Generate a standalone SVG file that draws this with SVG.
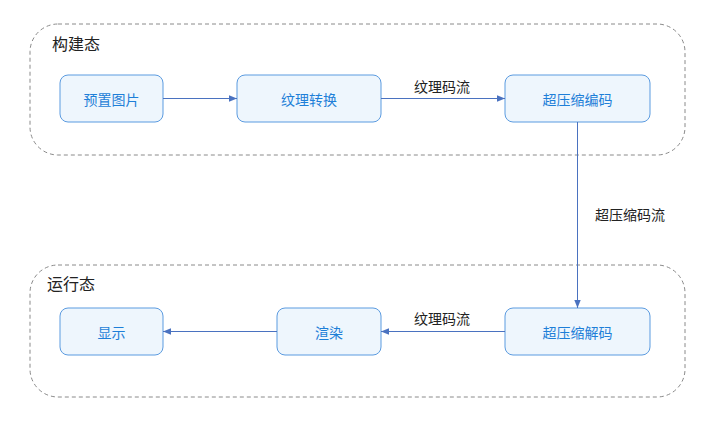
<svg xmlns="http://www.w3.org/2000/svg" width="711" height="429" viewBox="0 0 711 429">
<style>
.grp{fill:none;stroke:#8a8a8a;stroke-dasharray:4 3;stroke-width:1}
.gl{font-family:"Noto Sans CJK SC",sans-serif;font-size:16px;fill:#222}
.n rect{fill:#EEF6FD;stroke:#5B9BE0;stroke-width:1}
.n text{font-family:"Noto Sans CJK SC",sans-serif;font-size:14px;fill:#1E7FD8;text-anchor:middle;dominant-baseline:central}
.c{stroke:#4A72C0;stroke-width:1;fill:none;marker-end:url(#a)}
.cl{font-family:"Noto Sans CJK SC",sans-serif;font-size:14px;fill:#222;text-anchor:middle}
</style>
<defs><marker id="a" viewBox="0 0 10 10" refX="10" refY="5" markerWidth="8" markerHeight="8" orient="auto"><path d="M0,1 L10,5 L0,9 z" fill="#4A72C0"/></marker></defs>
<rect width="711" height="429" fill="#fff"/>
<g id="build"><rect class="grp" x="30" y="24" width="655" height="131" rx="28"/><text class="gl" x="52" y="50">构建态</text></g>
<g id="run"><rect class="grp" x="30" y="265" width="655" height="132" rx="28"/><text class="gl" x="47" y="290">运行态</text></g>
<g id="n1" class="n"><rect x="60" y="75" width="103" height="47" rx="8"/><text x="111.5" y="98.5">预置图片</text></g>
<g id="n2" class="n"><rect x="237" y="75" width="144" height="47" rx="8"/><text x="309" y="98.5">纹理转换</text></g>
<g id="n3" class="n"><rect x="505" y="75" width="145" height="47" rx="8"/><text x="577.5" y="98.5">超压缩编码</text></g>
<g id="n4" class="n"><rect x="505" y="308" width="145" height="47" rx="8"/><text x="577.5" y="331.5">超压缩解码</text></g>
<g id="n5" class="n"><rect x="277" y="308" width="104" height="47" rx="8"/><text x="329" y="331.5">渲染</text></g>
<g id="n6" class="n"><rect x="60" y="308" width="103" height="47" rx="8"/><text x="111.5" y="331.5">显示</text></g>
<g id="connectors">
<line class="c" x1="163" y1="98.5" x2="237" y2="98.5"/>
<line class="c" x1="381" y1="98.5" x2="505" y2="98.5"/>
<text class="cl" x="442" y="92">纹理码流</text>
<line class="c" x1="577.5" y1="122" x2="577.5" y2="308"/>
<text class="cl" x="630" y="220">超压缩码流</text>
<line class="c" x1="505" y1="331.5" x2="381" y2="331.5"/>
<text class="cl" x="442" y="324">纹理码流</text>
<line class="c" x1="277" y1="331.5" x2="163" y2="331.5"/>
</g>
</svg>
